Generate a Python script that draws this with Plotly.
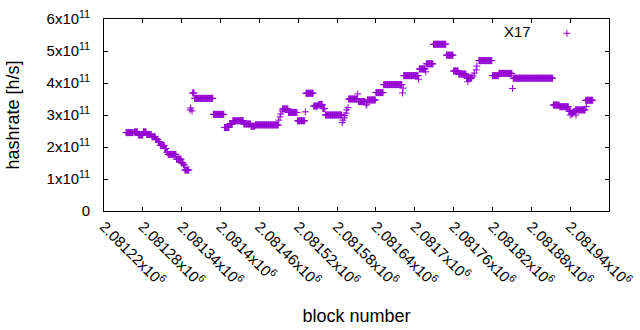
import plotly.graph_objects as go

# ---- data (hashrate in units of 1e11 h/s) ----
# constant-value runs of blocks: start block, end block, value
seg_start = [2081254, 2081267, 2081273, 2081281, 2081286, 2081294, 2081300, 2081304, 2081307, 2081314,
             2081317, 2081319, 2081332, 2081340, 2081343, 2081345, 2081357, 2081360, 2081389, 2081406,
             2081414, 2081419, 2081436, 2081447, 2081454, 2081496, 2081505, 2081519, 2081532, 2081544,
             2081551, 2081558, 2081562, 2081598, 2081613, 2081627, 2081640, 2081652, 2081683, 2081707,
             2081718, 2081729, 2081749, 2081760, 2081768, 2081780, 2081799, 2081820, 2081830, 2081852,
             2081914, 2081924, 2081938, 2081942, 2081945, 2081948, 2081964]
seg_end = [2081265, 2081272, 2081280, 2081285, 2081293, 2081299, 2081303, 2081306, 2081313, 2081316,
           2081318, 2081331, 2081339, 2081342, 2081344, 2081351, 2081359, 2081388, 2081405, 2081413,
           2081418, 2081435, 2081446, 2081453, 2081489, 2081504, 2081518, 2081530, 2081543, 2081550,
           2081557, 2081561, 2081587, 2081611, 2081623, 2081639, 2081651, 2081680, 2081705, 2081716,
           2081728, 2081748, 2081759, 2081767, 2081779, 2081788, 2081819, 2081829, 2081850, 2081913,
           2081923, 2081937, 2081941, 2081944, 2081947, 2081963, 2081975]
seg_value = [2.45, 2.47, 2.375, 2.47, 2.39, 2.32, 2.24, 2.16, 2.05, 1.95,
             1.84, 1.77, 1.62, 1.50, 1.44, 1.28, 3.69, 3.52, 3.02, 2.61,
             2.72, 2.82, 2.72, 2.65, 2.69, 3.19, 3.08, 2.82, 3.68, 3.28,
             3.33, 3.20, 3.00, 3.50, 3.42, 3.47, 3.70, 3.95, 4.23, 4.44,
             4.60, 5.21, 4.87, 4.375, 4.28, 4.16, 4.70, 4.23, 4.30, 4.15,
             3.31, 3.26, 3.12, 3.04, 3.10, 3.16, 3.46]
# single blocks (outliers / transitions)
pt_block = [2081353, 2081354, 2081356, 2081490, 2081492, 2081493, 2081495, 2081531, 2081588, 2081589,
            2081591, 2081592, 2081594, 2081595, 2081597, 2081612, 2081625, 2081626, 2081681, 2081682,
            2081706, 2081717, 2081782, 2081790, 2081792, 2081795, 2081796, 2081851, 2081940, 2081949,
            2081965]
pt_value = [3.16, 3.22, 3.125, 2.84, 2.94, 3.03, 3.125, 3.10, 2.76, 2.84,
            2.91, 2.98, 3.06, 3.16, 3.23, 3.66, 3.31, 3.34, 3.69, 3.84,
            4.12, 4.35, 4.04, 4.22, 4.31, 4.41, 4.53, 3.83, 3.00, 3.00,
            3.26]

x_tickvals = [2081220, 2081280, 2081340, 2081400, 2081460, 2081520, 2081580,
              2081640, 2081700, 2081760, 2081820, 2081880, 2081940, 2082000]
x_ticklabels = ["2.08122", "2.08128", "2.08134", "2.0814", "2.08146", "2.08152", "2.08158",
                "2.08164", "2.0817", "2.08176", "2.08182", "2.08188", "2.08194", "2.082"]
y_tickvals = [0, 1e11, 2e11, 3e11, 4e11, 5e11, 6e11]
y_ticklabels = ["0", "1x10<sup>11</sup>", "2x10<sup>11</sup>", "3x10<sup>11</sup>",
                "4x10<sup>11</sup>", "5x10<sup>11</sup>", "6x10<sup>11</sup>"]

# ---- build point list ----
pts = []
for s, e, v in zip(seg_start, seg_end, seg_value):
    for b in range(s, e + 1):
        pts.append((b, v * 1e11))
for b, v in zip(pt_block, pt_value):
    pts.append((b, v * 1e11))
pts.sort()
xs = [p[0] for p in pts]
ys = [p[1] for p in pts]

PURPLE = "#9400D3"
FONT = "Liberation Sans, Arial, sans-serif"

fig = go.Figure()
fig.add_trace(go.Scatter(
    x=xs, y=ys, mode="markers", name=" ",
    marker=dict(symbol="cross-thin", size=5, color=PURPLE,
                line=dict(width=1, color=PURPLE)),
    showlegend=True,
))

fig.update_layout(
    width=640, height=330,
    template="none",
    paper_bgcolor="white", plot_bgcolor="white",
    margin=dict(l=104, r=31, t=19, b=119),
    font=dict(family=FONT, size=15, color="black"),
    showlegend=True,
    legend=dict(
        title=dict(text="X17\u00a0\u00a0", side="left", font=dict(size=15)),
        x=0.976, y=1.01, xanchor="right", yanchor="top",
        bgcolor="rgba(0,0,0,0)", borderwidth=0,
        font=dict(size=15),
    ),
    xaxis=dict(
        range=[2081220, 2082000], tickmode="array", tickvals=x_tickvals,
        ticktext=[t + "x10<sup>6</sup>" for t in x_ticklabels],
        tickangle=45, ticks="inside", ticklen=4, tickcolor="black",
        showline=True, linecolor="black", linewidth=1, mirror="ticks",
        showgrid=False, zeroline=False, automargin=False,
        title=dict(text="block number", standoff=20),
    ),
    yaxis=dict(
        range=[0, 6e11], tickmode="array", tickvals=y_tickvals, ticktext=y_ticklabels,
        ticks="inside", ticklen=4, tickcolor="black",
        showline=True, linecolor="black", linewidth=1, mirror="ticks",
        showgrid=False, zeroline=False, automargin=False,
        ticklabelstandoff=10,
        title=dict(text="hashrate [h/s]", standoff=22),
    ),
)

fig.write_html("out.html", config={"displayModeBar": False},
               post_script="document.body.style.margin='0';")
